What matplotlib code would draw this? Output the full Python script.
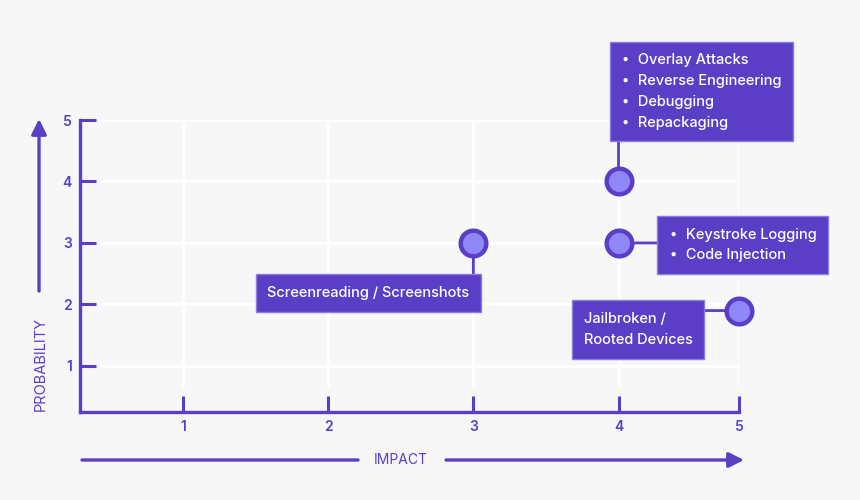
import numpy as np
import matplotlib.pyplot as plt

plt.rcParams['font.family'] = ['Inter', 'DejaVu Sans']

# risk points: impact (x) and probability (y)
impact = [3, 4, 4, 5]
probability = [3, 4, 3, 1.9]
labels = [
    "Screenreading / Screenshots",
    "\u2219  Overlay Attacks\n\u2219  Reverse Engineering\n\u2219  Debugging\n\u2219  Repackaging",
    "\u2219  Keystroke Logging\n\u2219  Code Injection",
    "Jailbroken /\nRooted Devices",
]
ticks = [1, 2, 3, 4, 5]

# label box placement: box centre offset and connector end, in pixels from the point
offsets = [(-105, -50), (83, 90), (124, -2), (-101, -19)]
connectors = [(0, -32), (0, 40), (38, 0), (-36, 0)]

purple = '#5a3fc6'
light = '#8f87f5'
bg = '#f7f7f7'

# 5 sits closer to 4 than the other steps
def fwd(x):
    return np.interp(x, [-1, 4, 5, 6], [-1, 4, 4.83, 5.66])

def inv(x):
    return np.interp(x, [-1, 4, 4.83, 5.66], [-1, 4, 5, 6])

fig = plt.figure(figsize=(8.6, 5), dpi=100, facecolor=bg)
ax = fig.add_axes([80/860, 88/500, 659/860, 292/500])
ax.set_facecolor(bg)
ax.set_xscale('function', functions=(fwd, inv))
ax.set_xlim(0.29, 5)
ax.set_ylim(0.25, 5)

# white grid, slightly inset from the spines
ax.hlines(ticks, 0.43, 5, color='white', lw=2, zorder=0)
ax.vlines(ticks, 0.65, 5, color='white', lw=2, zorder=0)

for s in ['top', 'right']:
    ax.spines[s].set_visible(False)
for s in ['left', 'bottom']:
    ax.spines[s].set_color(purple)
    ax.spines[s].set_linewidth(2.4)

ax.set_xticks(ticks)
ax.set_yticks(ticks)
ax.set_xticklabels([str(t) for t in ticks])
ax.set_yticklabels([str(t) for t in ticks])
ax.xaxis.set_minor_locator(plt.NullLocator())
ax.tick_params(direction='in', length=11.5, width=2.2, color=purple,
               labelcolor=purple, labelsize=10, pad=6)
for lab in ax.get_xticklabels() + ax.get_yticklabels():
    lab.set_fontweight('semibold')

for x, y, txt, off, con in zip(impact, probability, labels, offsets, connectors):
    ax.annotate('', xy=(x, y), xytext=con, textcoords='offset pixels',
                arrowprops=dict(arrowstyle='-', color=purple, lw=2,
                                shrinkA=0, shrinkB=0),
                annotation_clip=False, zorder=2)
    ax.annotate(txt, xy=(x, y), xytext=off, textcoords='offset pixels',
                ha='center', va='center', color='white', fontsize=10.5,
                fontweight='medium', linespacing=1.62, multialignment='left',
                bbox=dict(boxstyle='square,pad=0.8', fc=purple, ec='#8a7ce0', lw=1),
                annotation_clip=False, zorder=3)

ax.scatter(impact, probability, s=340, c=light, edgecolors=purple,
           linewidths=3.2, zorder=5, clip_on=False)

# axis arrows and titles
ff = 'figure fraction'
head = '-|>,head_length=0.9,head_width=0.45'
ax.annotate('', xy=(39/860, 1-119/500), xytext=(39/860, 1-291/500), xycoords=ff,
            arrowprops=dict(arrowstyle=head, lw=2.4, color=purple, shrinkA=0, shrinkB=0))
fig.text(41/860, 1-364/500, 'PROBABILITY', rotation=90, ha='center', va='center',
         color=purple, fontsize=10.5)
ax.annotate('', xy=(358/860, 1-460/500), xytext=(82/860, 1-460/500), xycoords=ff,
            arrowprops=dict(arrowstyle='-', lw=2.4, color=purple, shrinkA=0, shrinkB=0))
ax.annotate('', xy=(744/860, 1-460/500), xytext=(446/860, 1-460/500), xycoords=ff,
            arrowprops=dict(arrowstyle=head, lw=2.4, color=purple, shrinkA=0, shrinkB=0))
fig.text(401/860, 1-460/500, 'IMPACT', ha='center', va='center',
         color=purple, fontsize=10)

fig.savefig('out.png', dpi=100, facecolor=bg)
